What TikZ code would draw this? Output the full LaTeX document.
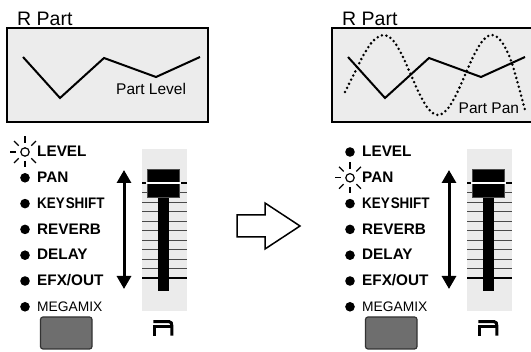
\documentclass[tikz,border=0pt]{standalone}
\usepackage{fontspec}
\usepackage{graphicx}
\setmainfont{Liberation Sans}
\usetikzlibrary{arrows.meta}
\definecolor{panelgray}{HTML}{ECECEC}
\definecolor{fadergray}{HTML}{EBEBEB}
\definecolor{btngray}{HTML}{6E6E6E}
\definecolor{linegray}{HTML}{4A4A4A}
\begin{document}
\begin{tikzpicture}[x=1pt,y=-1pt,
  panelbox/.style={draw=black,line width=1.5pt,fill=panelgray},
  graphline/.style={line width=2pt,line join=miter},
  dotline/.style={line width=2.8pt,dash pattern=on 0pt off 4.6pt,line cap=round},
  title/.style={inner sep=0pt,anchor=base west,font=\fontsize{19.5}{19.5}\selectfont},
  graphlbl/.style={inner sep=0pt,anchor=base west,font=\fontsize{15.5}{15.5}\selectfont},
  lbl/.style={inner sep=0pt,anchor=base west,font=\fontsize{15.3}{15.3}\selectfont\bfseries},
  lblreg/.style={inner sep=0pt,anchor=base west,font=\fontsize{13.8}{13.8}\selectfont},
  ray/.style={line width=1.3pt},
  ledon/.style={circle,fill=black,inner sep=0pt,outer sep=0pt,minimum size=9.6pt},
  ledoff/.style={circle,draw=black,line width=1.2pt,inner sep=0pt,outer sep=0pt,minimum size=8.4pt},
  faderbg/.style={fill=fadergray},
  thinrule/.style={draw=linegray,line width=1.1pt},
  thickrule/.style={draw=black,line width=2pt},
  knobbox/.style={fill=black,draw=black!70,line width=0.8pt},
  button/.style={fill=btngray,draw=black!80,line width=1.2pt,rounded corners=2.5pt},
  glyphR/.style={line width=3pt},
  dblarrow/.style={line width=3pt,{Triangle[length=13pt,width=14pt]}-{Triangle[length=13pt,width=14pt]}},
  hollowarrow/.style={draw=black,fill=white,line width=1.5pt,line join=miter}
]
\useasboundingbox (0,0) rectangle (531,352);

% ---------- upper panels ----------
\node[title] (titleL) at (17,26) {R Part};
\draw[panelbox] (7,28) rectangle (208,122);
\draw[graphline] (23,57) -- (60,98) -- (104,58) -- (156,77) -- (200,57);
\node[graphlbl] (plev) at (116,95) {Part Level};

\node[title] (titleR) at (342,26) {R Part};
\draw[panelbox] (332,28) rectangle (534,122);
\draw[dotline] plot[smooth,tension=0.6] coordinates {(345,92) (354,74) (363,56) (373,41) (384,35) (393,40.4) (402,55) (411,75) (420,95) (429,109.6) (438,115) (447,109.6) (456,95) (465,75) (474,55) (483,40.4) (492,35) (501,41) (510,58) (518,84) (525,110)};
\draw[graphline] (348,57) -- (385,98) -- (429,58) -- (481,77) -- (525,57);
\node[graphlbl,fill=panelgray,inner sep=0.5pt] (ppan) at (458,113.5) {Part Pan};

% ---------- middle hollow arrow ----------
\draw[hollowarrow] (237,215) -- (265,215) -- (265,203) -- (300,226) -- (265,249) -- (265,237) -- (237,237) -- cycle;

% ---------- lower panels ----------
\foreach \s/\p/\lit in {0/L/0,325/R/1}{
\begin{scope}[xshift=\s pt]
  % fader
  \fill[faderbg] (142,149) rectangle (187,311);
  \foreach \k in {1,...,9}{
    \draw[thinrule] (142,183+9.53*\k) -- (187,183+9.53*\k);
  }
  \draw[thickrule] (142,183) -- (187,183);
  \draw[thickrule] (142,278.3) -- (187,278.3);
  \fill (158.3,190) rectangle (169,291);
  \draw[knobbox] (147.8,169.7) rectangle (179.3,197.2);
  \draw[white,line width=1.5pt] (145.5,183) -- (181,183);
  \coordinate (top\p) at (124,170);
  \coordinate (bot\p) at (124,289);
  \draw[dblarrow] (top\p) -- (bot\p);
  % labels
  \node[lbl] (lev\p) at (37,156.7) {LEVEL};
  \node[lbl] (pan\p) at (37,182.5) {PAN};
  \node[lbl] (key\p) at (37,208.3) {\scalebox{0.88}[1]{KEY\kern1pt SHIFT}};
  \node[lbl] (rev\p) at (37,234.1) {REVERB};
  \node[lbl] (del\p) at (37,259.9) {DELAY};
  \node[lbl] (efx\p) at (37,285.7) {EFX/OUT};
  \node[lblreg] (meg\p) at (37,311.5) {MEGAMIX};
  % leds
  \foreach \k in {0,...,6}{
    \ifnum\k=\lit\relax
      \node[ledoff] (led\p\k) at (25,152+25.8*\k) {};
      \foreach \a in {45,90,135,180,225,270,315}{
        \draw[ray] ([shift={(\a:9pt)}]led\p\k.center) -- ([shift={(\a:15.5pt)}]led\p\k.center);
      }
    \else
      \node[ledon] (led\p\k) at (25,152+25.8*\k) {};
    \fi
  }
  % button
  \draw[button] (40.5,317) rectangle (92,349);
  % R glyph
  \draw[glyphR] (153.3,321.7) -- (169.3,321.7) .. controls (171.3,321.7) and (171.8,323.5) .. (171.8,325.5) -- (171.8,335.7);
  \draw[glyphR] (153.3,327) -- (173.3,327);
  \draw[glyphR] (154.8,327) -- (154.8,335.7);
\end{scope}
}
\end{tikzpicture}
\end{document}
